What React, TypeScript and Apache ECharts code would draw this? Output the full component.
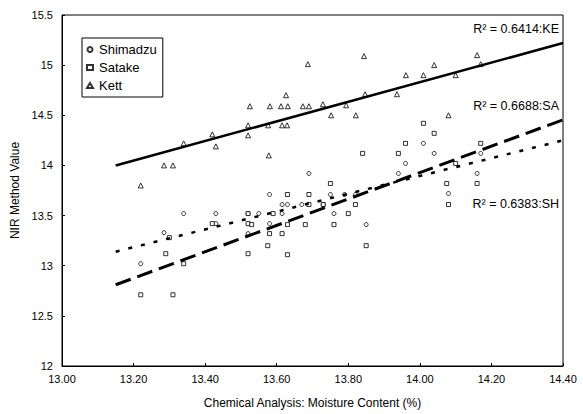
import React, { useEffect, useRef } from "react";
import * as echarts from "echarts";

const shimadzu: [number, number][] = [
  [13.22, 13.02], [13.285, 13.33], [13.34, 13.52], [13.43, 13.52], [13.43, 13.42],
  [13.52, 13.52], [13.52, 13.32], [13.58, 13.71], [13.615, 13.61], [13.63, 13.61],
  [13.67, 13.61], [13.615, 13.52], [13.58, 13.42], [13.69, 13.92], [13.75, 13.71],
  [13.76, 13.52], [13.79, 13.71], [13.82, 13.71], [13.85, 13.41], [13.73, 13.61],
  [13.96, 14.02], [13.94, 13.92], [14.01, 14.22], [14.04, 14.12], [14.08, 13.72],
  [14.16, 13.92], [14.17, 14.12], [13.55, 13.52],
];

const satake: [number, number][] = [
  [13.22, 12.71], [13.31, 12.71], [13.29, 13.12], [13.30, 13.28], [13.34, 13.02],
  [13.42, 13.42], [13.52, 13.52], [13.52, 13.42], [13.52, 13.12], [13.59, 13.52],
  [13.63, 13.71], [13.69, 13.71], [13.69, 13.61], [13.63, 13.41], [13.68, 13.41],
  [13.76, 13.41], [13.58, 13.32], [13.615, 13.32], [13.575, 13.20], [13.63, 13.11],
  [13.85, 13.20], [13.75, 13.82], [13.82, 13.61], [13.80, 13.52], [13.84, 14.12],
  [13.94, 14.12], [13.96, 14.22], [14.01, 14.42], [14.04, 14.32], [14.17, 14.22],
  [14.10, 14.02], [14.075, 13.82], [14.08, 13.61], [14.16, 13.82], [13.73, 13.61],
  [13.53, 13.41],
];

const kett: [number, number][] = [
  [13.22, 13.80], [13.285, 14.0], [13.31, 14.0], [13.34, 14.22], [13.42, 14.31],
  [13.43, 14.19], [13.525, 14.59], [13.52, 14.40], [13.52, 14.30], [13.687, 15.01],
  [13.844, 15.09], [13.961, 14.90], [13.936, 14.71], [13.626, 14.70], [13.581, 14.59],
  [13.612, 14.59], [13.631, 14.59], [13.673, 14.59], [13.69, 14.59], [13.729, 14.61],
  [13.794, 14.60], [13.752, 14.50], [13.821, 14.50], [13.847, 14.71], [13.615, 14.40],
  [13.629, 14.40], [13.578, 14.10], [13.576, 14.40], [14.01, 14.90], [14.04, 15.0],
  [14.10, 14.90], [14.16, 15.10], [14.17, 15.01], [14.08, 14.50],
];

const trendKE: [number, number][] = [[13.15, 14.0], [14.4, 15.22]];
const trendSA: [number, number][] = [[13.15, 12.81], [14.4, 14.455]];
const trendSH: [number, number][] = [[13.15, 13.14], [14.4, 14.25]];

const r2Labels = ["R\u00B2 = 0.6414:KE", "R\u00B2 = 0.6688:SA", "R\u00B2 = 0.6383:SH"];
const legendNames = ["Shimadzu", "Satake", "Kett"];

const FONT = "'Liberation Sans', Arial, sans-serif";

export default function App() {
  const ref = useRef<HTMLDivElement>(null);
  useEffect(() => {
    if (!ref.current) return;
    const chart = echarts.init(ref.current, null, { renderer: "svg" });
    const hollow = { color: "#fff", borderColor: "#000", borderWidth: 1 };
    chart.setOption({
      animation: false,
      backgroundColor: "#fff",
      textStyle: { fontFamily: FONT, color: "#000" },
      grid: { left: 62, top: 15, right: 20, bottom: 48, show: true, borderColor: "#000", borderWidth: 1 },
      legend: {
        data: legendNames,
        orient: "vertical",
        left: 82,
        top: 38,
        borderColor: "#000",
        borderWidth: 1,
        padding: [5, 6, 5, 4],
        itemWidth: 6,
        itemHeight: 5,
        itemGap: 5,
        textStyle: { fontSize: 13, color: "#000", fontFamily: FONT, padding: [0, 0, 0, 1] },
      },
      xAxis: {
        type: "value",
        min: 13,
        max: 14.4,
        interval: 0.2,
        name: "Chemical Analysis: Moisture Content (%)",
        nameLocation: "middle",
        nameGap: 31,
        nameTextStyle: { fontSize: 12, color: "#000", fontFamily: FONT },
        axisLine: { lineStyle: { color: "#000", width: 1 } },
        axisTick: { inside: true, length: 3, lineStyle: { color: "#000" } },
        axisLabel: { color: "#000", fontSize: 11, margin: 7, formatter: (v: number) => v.toFixed(2) },
        splitLine: { show: false },
      },
      yAxis: {
        type: "value",
        min: 12,
        max: 15.5,
        interval: 0.5,
        name: "NIR Method Value",
        nameLocation: "middle",
        nameGap: 36,
        nameTextStyle: { fontSize: 12, color: "#000", fontFamily: FONT },
        axisLine: { lineStyle: { color: "#000", width: 1 } },
        axisTick: { inside: true, length: 3, lineStyle: { color: "#000" } },
        axisLabel: { color: "#000", fontSize: 11, margin: 9 },
        splitLine: { show: false },
      },
      graphic: [
        { type: "text", right: 24, top: 22, style: { text: r2Labels[0], font: `12.5px ${FONT}`, fill: "#000" } },
        { type: "text", right: 24, top: 99, style: { text: r2Labels[1], font: `12.5px ${FONT}`, fill: "#000" } },
        { type: "text", right: 24, top: 197, style: { text: r2Labels[2], font: `12.5px ${FONT}`, fill: "#000" } },
      ],
      series: [
        { name: "Shimadzu", type: "scatter", symbol: "circle", symbolSize: 4, itemStyle: hollow, data: shimadzu, z: 3 },
        { name: "Satake", type: "scatter", symbol: "rect", symbolSize: 4, itemStyle: hollow, data: satake, z: 3 },
        { name: "Kett", type: "scatter", symbol: "triangle", symbolSize: 5, itemStyle: hollow, data: kett, z: 3 },
        {
          name: "KE", type: "line", data: trendKE, showSymbol: false, z: 4,
          lineStyle: { color: "#000", width: 2.5 },
        },
        {
          name: "SA", type: "line", data: trendSA, showSymbol: false, z: 4,
          lineStyle: { color: "#000", width: 3, type: [16, 7] },
        },
        {
          name: "SH", type: "line", data: trendSH, showSymbol: false, z: 4,
          lineStyle: { color: "#000", width: 2.5, type: [4, 9] },
        },
      ],
    });
    return () => chart.dispose();
  }, []);
  return <div ref={ref} style={{ width: 583, height: 414, position: "absolute", left: 0, top: 0 }} />;
}
